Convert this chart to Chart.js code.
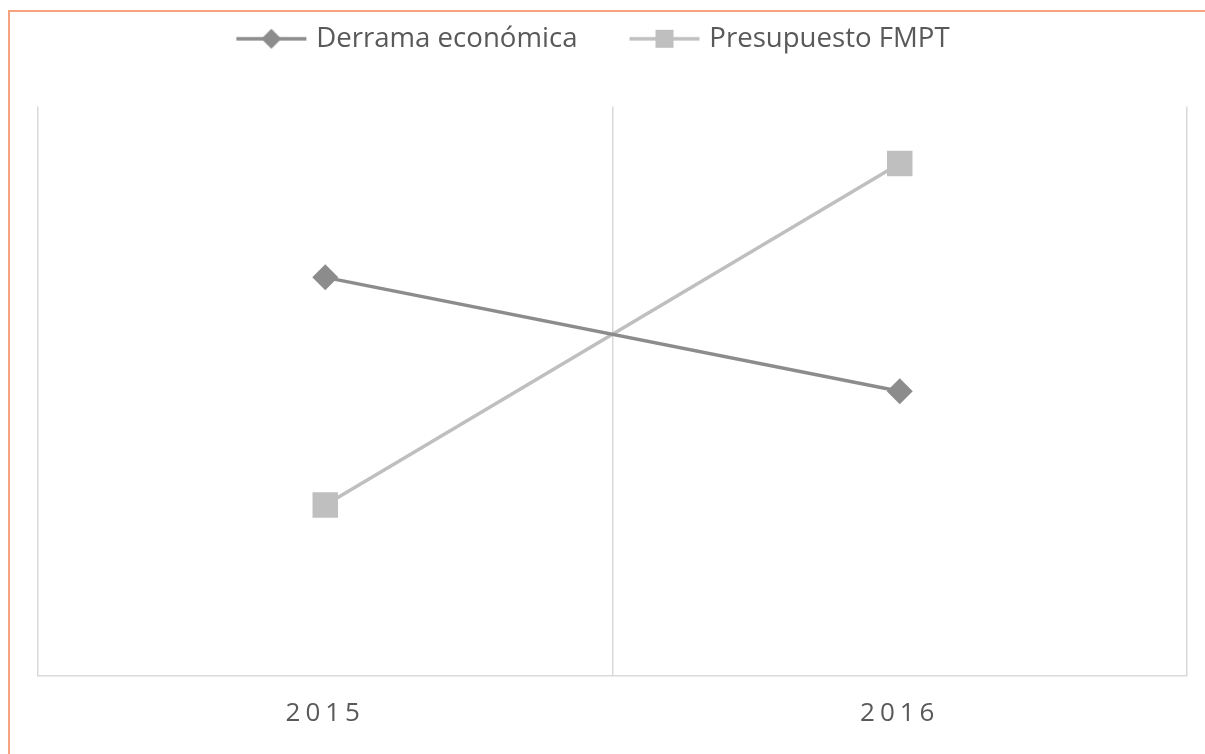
<!DOCTYPE html>
<html lang="es">
<head>
<meta charset="utf-8">
<title>Derrama económica vs Presupuesto FMPT</title>
<script src="https://cdn.jsdelivr.net/npm/chart.js@4.4.1/dist/chart.umd.min.js"></script>
<style>
  html, body { margin: 0; padding: 0; background: #fff; }
  #marco {
    position: absolute; left: 8px; top: 10px; width: 1197px; height: 744px;
    border-top: 2px solid #f6a27f; border-left: 2px solid #f6a27f;
    box-sizing: border-box;
  }
  #wrap { position: absolute; left: 0; top: 0; width: 1205px; height: 754px; }
</style>
</head>
<body>
<div id="marco"></div>
<div id="wrap"><canvas id="grafica"></canvas></div>
<script>
// Datos
const anios = ['2015', '2016'];
const derrama = [70, 50];
const presupuesto = [30, 90];

const colorDerrama = '#8c8c8c';
const colorPresupuesto = '#bfbfbf';

// Muestra de leyenda: línea con marcador
function muestraLeyenda(color, forma) {
    const c = document.createElement('canvas');
    c.width = 72; c.height = 28;
    const g = c.getContext('2d');
    g.strokeStyle = color;
    g.lineWidth = 3.5;
    g.beginPath();
    g.moveTo(1, 14); g.lineTo(71, 14);
    g.stroke();
    g.fillStyle = color;
    g.beginPath();
    if (forma === 'rombo') {
        g.moveTo(36, 4); g.lineTo(46, 14); g.lineTo(36, 24); g.lineTo(26, 14);
    } else {
        g.rect(27, 5, 18, 18);
    }
    g.closePath();
    g.fill();
    return c;
}

const iconos = [muestraLeyenda(colorDerrama, 'rombo'), muestraLeyenda(colorPresupuesto, 'cuadro')];

// Espaciado entre letras para las etiquetas de años
const espaciadoEjeX = {
    id: 'espaciadoEjeX',
    beforeDraw(chart) {
        const escala = chart.scales.x;
        if (escala._parcheado) return;
        const original = escala.drawLabels;
        escala.drawLabels = function(area) {
            chart.ctx.save();
            chart.ctx.letterSpacing = '5px';
            original.call(this, area);
            chart.ctx.restore();
        };
        escala._parcheado = true;
    }
};

// Ajuste de posición y alto de la leyenda
const ajusteLeyenda = {
    id: 'ajusteLeyenda',
    beforeInit(chart) {
        const leyenda = chart.legend;
        const fit = leyenda.fit;
        leyenda.fit = function() {
            fit.call(this);
            this.height -= 9;
        };
        const draw = leyenda.draw;
        leyenda.draw = function() {
            chart.ctx.save();
            chart.ctx.translate(-18, -53);
            draw.call(this);
            chart.ctx.restore();
        };
    }
};

const ctx = document.getElementById('grafica').getContext('2d');
new Chart(ctx, {
    type: 'line',
    data: {
        labels: anios,
        datasets: [{
            label: 'Derrama económica',
            data: derrama,
            borderColor: colorDerrama,
            backgroundColor: colorDerrama,
            borderWidth: 3.5,
            pointStyle: 'rectRot',
            pointRadius: 13,
            pointHoverRadius: 13,
            pointBorderWidth: 0
        }, {
            label: 'Presupuesto FMPT',
            data: presupuesto,
            borderColor: colorPresupuesto,
            backgroundColor: colorPresupuesto,
            borderWidth: 3.5,
            pointStyle: 'rect',
            pointRadius: 18,
            pointHoverRadius: 18,
            pointBorderWidth: 0
        }]
    },
    options: {
        responsive: true,
        maintainAspectRatio: false,
        animation: false,
        layout: { padding: { left: 38, right: 17, top: 22, bottom: 3 } },
        plugins: {
            legend: {
                position: 'top',
                labels: {
                    usePointStyle: true,
                    pointStyleWidth: 62,
                    padding: 56,
                    color: '#595959',
                    font: { family: 'Open Sans', size: 27.6 },
                    generateLabels(chart) {
                        return chart.data.datasets.map((ds, i) => ({
                            text: ds.label,
                            fillStyle: ds.backgroundColor,
                            strokeStyle: ds.borderColor,
                            pointStyle: iconos[i],
                            fontColor: '#595959',
                            hidden: false,
                            datasetIndex: i
                        }));
                    }
                }
            },
            tooltip: { enabled: false }
        },
        scales: {
            x: {
                offset: true,
                grid: { color: '#d9d9d9', lineWidth: 1.5, drawTicks: false, offset: true },
                border: { color: '#d9d9d9', width: 1.5 },
                ticks: { color: '#595959', padding: 22, font: { family: 'Open Sans', size: 26 } }
            },
            y: {
                display: false,
                min: 0,
                max: 100
            }
        }
    },
    plugins: [espaciadoEjeX, ajusteLeyenda]
});
</script>
</body>
</html>
